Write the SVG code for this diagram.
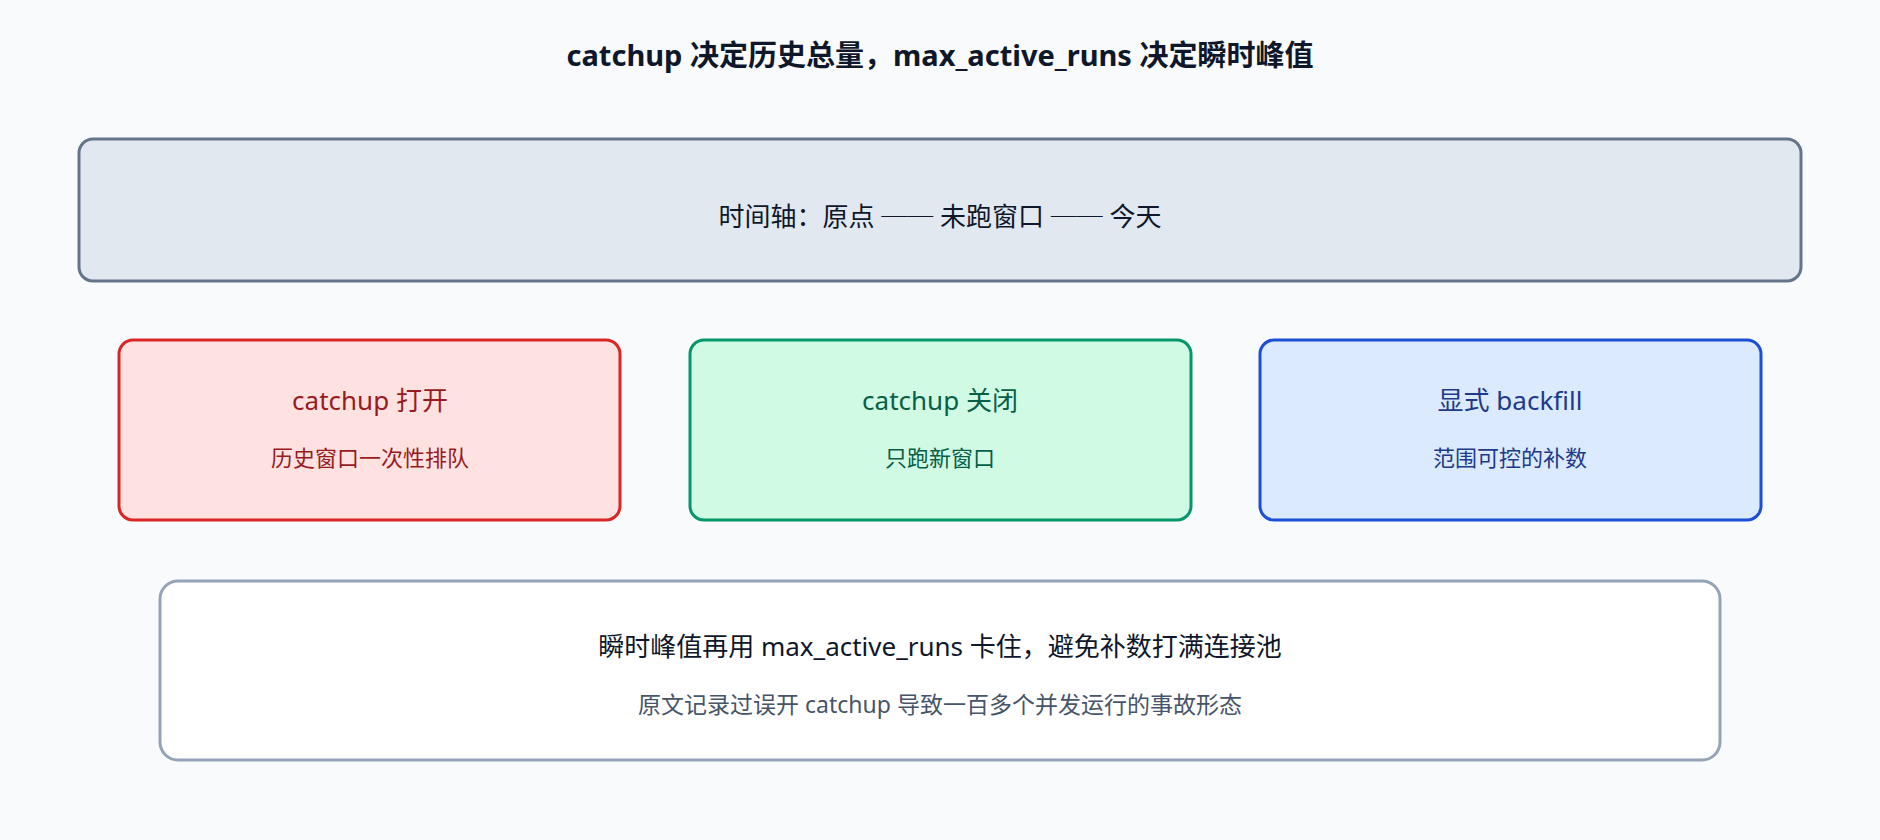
<svg xmlns="http://www.w3.org/2000/svg" width="1880" height="840" viewBox="0 0 1880 840">
<style>
text{font-family:"Noto Sans","Noto Sans CJK SC",sans-serif;text-anchor:middle;dominant-baseline:central}
.t{font-size:29px;font-weight:bold;fill:#0f172a}
.h{font-size:26px}
.s{font-size:22px}
</style>
<rect width="1880" height="840" fill="#f8fafc"/>
<text class="t" x="940" y="54">catchup 决定历史总量，max_active_runs 决定瞬时峰值</text>
<g id="timeline"><rect x="79" y="139" width="1722" height="142" rx="14" fill="#e2e8f0" stroke="#64748b" stroke-width="3"/>
<text class="h" x="940" y="216" fill="#0f172a">时间轴：原点 ── 未跑窗口 ── 今天</text></g>
<g id="catchup-on"><rect x="119" y="340" width="501" height="180" rx="14" fill="#fee2e2" stroke="#dc2626" stroke-width="3"/>
<text class="h" x="370" y="400" fill="#991b1b">catchup 打开</text><text class="s" x="370" y="457" fill="#991b1b">历史窗口一次性排队</text></g>
<g id="catchup-off"><rect x="690" y="340" width="501" height="180" rx="14" fill="#d1fae5" stroke="#059669" stroke-width="3"/>
<text class="h" x="940" y="400" fill="#065f46">catchup 关闭</text><text class="s" x="940" y="457" fill="#065f46">只跑新窗口</text></g>
<g id="backfill"><rect x="1260" y="340" width="501" height="180" rx="14" fill="#dbeafe" stroke="#1d4ed8" stroke-width="3"/>
<text class="h" x="1510" y="400" fill="#1e3a8a">显式 backfill</text><text class="s" x="1510" y="457" fill="#1e3a8a">范围可控的补数</text></g>
<g id="note"><rect x="160" y="581" width="1560" height="179" rx="18" fill="#ffffff" stroke="#94a3b8" stroke-width="3"/>
<text class="h" x="940" y="646" fill="#0f172a">瞬时峰值再用 max_active_runs 卡住，避免补数打满连接池</text>
<text class="s" x="940" y="704" fill="#475569" style="font-size:23px">原文记录过误开 catchup 导致一百多个并发运行的事故形态</text></g>
<g id="connectors"/>
</svg>
